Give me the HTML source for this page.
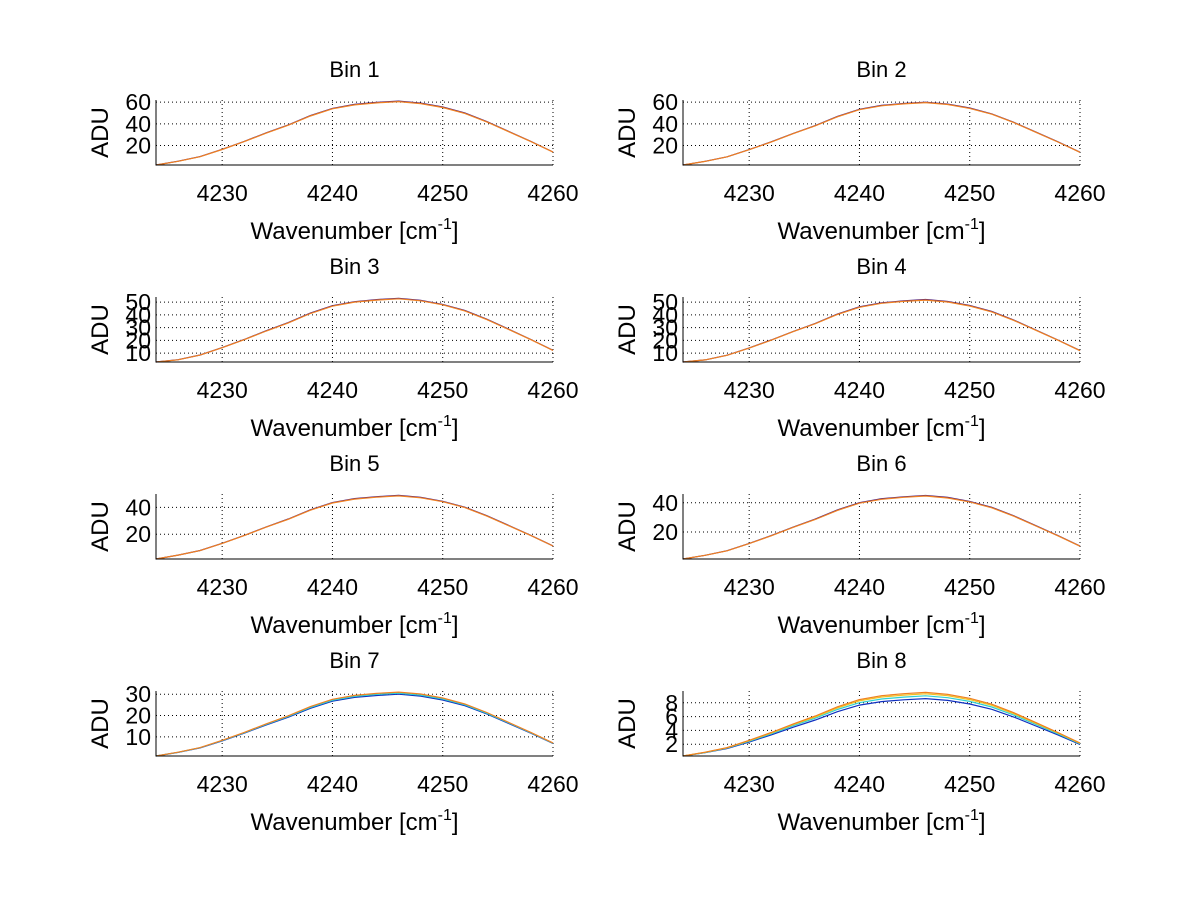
<!DOCTYPE html>
<html><head><meta charset="utf-8"><style>
body{margin:0;background:#fff;}
svg{display:block;font-family:"Liberation Sans",sans-serif;}
</style></head><body>
<svg id="fig" width="1200" height="901" viewBox="0 0 1200 901"></svg>
<script>
const xSamples=[4224,4226,4228,4230,4232,4234,4236,4238,4240,4242,4244,4246,4248,4250,4252,4254,4256,4258,4260];
const shape=[0.03,0.09,0.16,0.27,0.39,0.52,0.64,0.78,0.89,0.95,0.98,1.0,0.97,0.91,0.82,0.69,0.54,0.39,0.23];
const xTicks=[4230,4240,4250,4260];
const binTitles=["Bin 1","Bin 2","Bin 3","Bin 4","Bin 5","Bin 6","Bin 7","Bin 8"];
const yLims=[[2,62],[2,62],[3,54],[3,54],[1.5,50],[1.5,46],[1,31.5],[0.3,9.7]];
const yTickSets=[[20,40,60],[20,40,60],[10,20,30,40,50],[10,20,30,40,50],[20,40],[20,40],[10,20,30],[2,4,6,8]];
const seriesPeaks=[[61,60.5],[60,59.6],[53,52.6],[52,51.6],[49,48.6],[45,44.6],[30,30.5,31],[8.6,9.0,9.3,9.5]];
const seriesColors=[["#4b1a7a","#f08020"],["#4b1a7a","#f08020"],["#4b1a7a","#f08020"],["#4b1a7a","#f08020"],["#4b1a7a","#f08020"],["#4b1a7a","#f08020"],["#1030c0","#30d0d0","#f08020"],["#1030c0","#30d0d0","#f0c020","#f08020"]];

const NS="http://www.w3.org/2000/svg";
const svg=document.getElementById('fig');
function mk(tag,attrs,parent){const e=document.createElementNS(NS,tag);for(const k in attrs)e.setAttribute(k,attrs[k]);(parent||svg).appendChild(e);return e;}
const colX=[156,683], W=397, rowY=[100,297,494,691], H=65;
for(let i=0;i<8;i++){
  const x0=colX[i%2], y0=rowY[Math.floor(i/2)];
  const [ymin,ymax]=yLims[i];
  const sx=v=>x0+(v-4224)/(4260-4224)*W;
  const sy=v=>y0+H-(v-ymin)/(ymax-ymin)*H;
  const g=mk('g',{});
  
  
  xTicks.forEach(t=>{const l=mk('line',{x1:sx(t),x2:sx(t),y1:y0,y2:y0+H,stroke:'#000','stroke-width':1,'stroke-dasharray':'1,3'},g);
    
    const tx=mk('text',{x:sx(t),y:y0+H+36,'font-size':23,'text-anchor':'middle'},g);tx.textContent=t;
    });
  yTickSets[i].forEach(t=>{const l=mk('line',{x1:x0,x2:x0+W,y1:sy(t),y2:sy(t),stroke:'#000','stroke-width':1,'stroke-dasharray':'1,3'},g);
    
    const tx=mk('text',{x:x0-5,y:sy(t)+8,'font-size':23,'text-anchor':'end'},g);tx.textContent=t;
    });
  seriesPeaks[i].forEach((p,k)=>{
    const pts=xSamples.map((xv,j)=>sx(xv).toFixed(1)+','+sy(Math.max(ymin,shape[j]*p)).toFixed(1)).join(' ');
    const pl=mk('polyline',{points:pts,fill:'none',stroke:seriesColors[i][k],'stroke-width':1.2},g);
    
  });
  const ax=mk('path',{d:`M${x0},${y0} V${y0+H} H${x0+W}`,fill:'none',stroke:'#000','stroke-width':1},g);
  
  const ti=mk('text',{x:x0+W/2,y:y0-23,'font-size':22,'text-anchor':'middle'},g);ti.textContent=binTitles[i];
  
  const xl=mk('text',{x:x0+W/2,y:y0+H+74,'font-size':24,'text-anchor':'middle'},g);
  
  xl.appendChild(document.createTextNode('Wavenumber [cm'));
  const sup=mk('tspan',{'font-size':16,dy:-10},xl);sup.textContent='-1';
  const cl=mk('tspan',{'font-size':24,dy:10},xl);cl.textContent=']';
  const yl=mk('text',{x:0,y:0,'font-size':24,'text-anchor':'middle',transform:`translate(${x0-48},${y0+H/2}) rotate(-90)`},g);yl.textContent='ADU';
  
}
</script>
</body></html>
